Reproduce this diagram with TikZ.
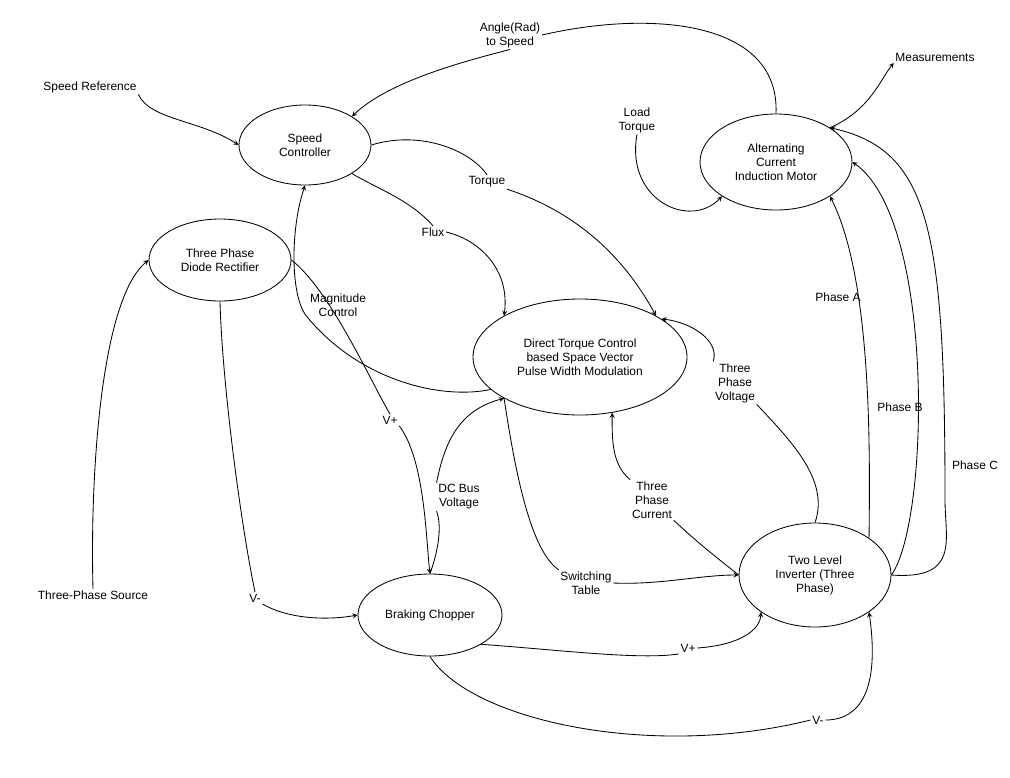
\documentclass[tikz,border=0pt]{standalone}
\usepackage{fontspec}
\setmainfont{Liberation Sans}
\usetikzlibrary{shapes.geometric, arrows, positioning}
\tikzstyle{every node} = [font=\fontsize{8.5}{10}\selectfont]
\tikzstyle{every path} = [semithick]
\tikzstyle{arrow} = [semithick,->,>=stealth]
\tikzstyle{block} = [ellipse, draw=black, text centered, align=center, inner sep=0pt]
\tikzstyle{lbl}   = [align=center, inner sep=1pt]

\begin{document}
\begin{tikzpicture}[x=0.025cm, y=-0.025cm]
\useasboundingbox (0,0) rectangle (1010,777);
% Blocks
    \node (spd)  [block, minimum width=132*0.025cm, minimum height=80*0.025cm] at (305,145) {Speed\\Controller};
    \node (mot)  [block, minimum width=152*0.025cm, minimum height=96*0.025cm] at (776,162) {Alternating\\Current\\Induction Motor};
    \node (dtc)  [block, minimum width=214*0.025cm, minimum height=116*0.025cm] at (580,357) {Direct Torque Control\\based Space Vector\\Pulse Width Modulation};
    \node (rect) [block, minimum width=142*0.025cm, minimum height=82*0.025cm] at (220,260) {Three Phase\\Diode Rectifier};
    \node (brk)  [block, minimum width=144*0.025cm, minimum height=82*0.025cm] at (430,615) {Braking Chopper};
    \node (inv)  [block, minimum width=152*0.025cm, minimum height=104*0.025cm] at (815,575) {Two Level\\Inverter (Three\\Phase)};

% Labels
    \node (ang)   [lbl] at (510,35)  {Angle(Rad)\\to Speed};
    \node (meas)  [lbl] at (935,57)  {Measurements};
    \node (sref)  [lbl] at (90,87)   {Speed Reference};
    \node (load)  [lbl] at (637,120) {Load\\Torque};
    \node (trq)   [lbl] at (487,182) {Torque};
    \node (flux)  [lbl] at (433,232) {Flux};
    \node (mag)   [lbl] at (338,305) {Magnitude\\Control};
    \node (pha)   [lbl] at (838,297) {Phase A};
    \node (tpv)   [lbl] at (735,383) {Three\\Phase\\Voltage};
    \node (phb)   [lbl] at (900,407) {Phase B};
    \node (tpc)   [lbl] at (652,500) {Three\\Phase\\Current};
    \node (dcb)   [lbl] at (459,497) {DC Bus\\Voltage};
    \node (vp1)   [lbl] at (390,420) {V+};
    \node (phc)   [lbl] at (975,465) {Phase C};
    \node (src)   [lbl] at (93,595)  {Three-Phase Source};
    \node (vm1)   [lbl] at (255,598) {V-};
    \node (swt)   [lbl] at (586,583) {Switching\\Table};
    \node (vp2)   [lbl] at (688,648) {V+};
    \node (vm2)   [lbl] at (818,720) {V-};
    \coordinate (cbend) at (945,500);

% Arrows
    % Speed loop
    \draw [arrow] (sref.south east) .. controls (150,120) and (200,120) .. (spd.west);
    \draw (mot.north) .. controls (780,20) and (650,10) .. (ang.east);
    \draw [arrow] (ang.south) .. controls (470,60) and (390,80) .. (spd.north east);
    \draw [arrow] (mot.north east) .. controls (870,110) and (880,80) .. (meas.south west);
    \draw [arrow] (load.south) .. controls (625,200) and (690,230) .. (mot.south west);
    \draw (spd.east) .. controls (420,130) and (470,150) .. (trq.north);
    \draw [arrow] (trq.south east) .. controls (570,210) and (620,250) .. (dtc.north east);
    \draw (spd.south east) .. controls (380,190) and (410,200) .. (flux.north);
    \draw [arrow] (flux.east) .. controls (480,240) and (510,270) .. (dtc.north west);
    \draw (dtc.200) .. controls (440,400) and (360,380) .. (mag.south west);
    \draw [arrow] (mag.south west) .. controls (290,300) and (290,230) .. (spd.south);
    % Inverter feedback
    \draw (inv.north) .. controls (830,480) and (790,440) .. (tpv.south east);
    \draw [arrow] (tpv.north west) .. controls (720,340) and (690,322) .. (dtc.25);
    \draw (inv.west) .. controls (720,560) and (700,545) .. (tpc.south east);
    \draw [arrow] (tpc.north west) .. controls (612,465) and (612,440) .. (dtc.-60);
    \draw (dtc.south west) .. controls (515,470) and (530,550) .. (swt.north west);
    \draw [arrow] (swt.east) .. controls (660,585) and (700,575) .. (inv.west);
    % Phases
    \draw [arrow] (inv.north east) .. controls (870,450) and (872,280) .. (mot.south east);
    \draw [arrow] (inv.east) .. controls (930,520) and (935,220) .. (mot.east);
    \draw [arrow] (inv.east) .. controls (960,580) and (945,540) .. (cbend) .. controls (945,230) and (930,150) .. (mot.north east);
    % Rectifier and chopper
    \draw [arrow] (src.north) .. controls (90,480) and (100,300) .. (rect.west);
    \draw (rect.east) .. controls (330,290) and (370,380) .. (vp1.north);
    \draw [arrow] (vp1.south east) .. controls (425,460) and (426,540) .. (brk.north);
    \draw (rect.south) .. controls (222,380) and (240,520) .. (vm1.north);
    \draw [arrow] (vm1.south east) .. controls (290,620) and (330,620) .. (brk.west);
    \draw (brk.north) .. controls (442,540) and (440,520) .. (dcb.south west);
    \draw [arrow] (dcb.north west) .. controls (445,440) and (460,410) .. (dtc.south west);
    \draw (brk.south east) .. controls (560,650) and (640,660) .. (vp2.south west);
    \draw [arrow] (vp2.east) .. controls (740,645) and (760,630) .. (inv.south west);
    \draw (brk.south) .. controls (470,720) and (650,760) .. (vm2.west);
    \draw [arrow] (vm2.east) .. controls (860,720) and (880,690) .. (inv.south east);
\end{tikzpicture}
\end{document}
